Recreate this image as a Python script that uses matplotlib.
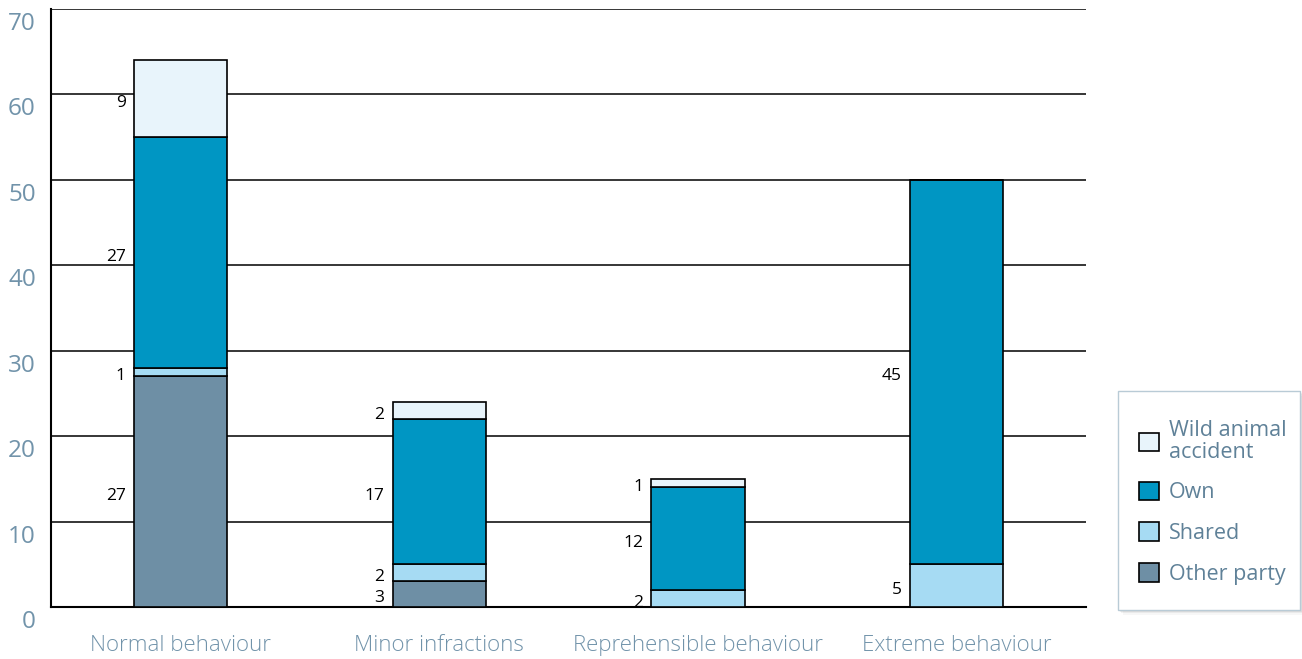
import numpy as np
import matplotlib
matplotlib.use("Agg")
import matplotlib.pyplot as plt
from matplotlib.patches import Patch, Rectangle
import matplotlib.transforms as mtransforms

plt.rcParams["font.family"] = ["Open Sans", "DejaVu Sans"]

categories = ["Normal behaviour", "Minor infractions",
              "Reprehensible behaviour", "Extreme behaviour"]
# stacked from the bottom up
other_party = [27, 3, 0, 0]
shared      = [1, 2, 2, 5]
own         = [27, 17, 12, 45]
wild_animal = [9, 2, 1, 0]

series = [
    ("Other party", other_party, "#6e8fa5"),
    ("Shared", shared, "#a6dbf3"),
    ("Own", own, "#0096c3"),
    ("Wild animal\naccident", wild_animal, "#e8f4fb"),
]

LABEL_COLOR = "#7193aa"
LEGEND_TEXT = "#5f8198"

W, H = 1302, 659
fig = plt.figure(figsize=(W / 100, H / 100), dpi=100)
ax = fig.add_axes([0.0392, 0.0789, 0.795, 0.9074])

x = np.arange(len(categories))
width = 0.36
bottom = np.zeros(len(categories))
for name, vals, color in series:
    vals = np.asarray(vals, dtype=float)
    ax.bar(x, vals, width, bottom=bottom, color=color, edgecolor="black",
           linewidth=1.2, zorder=3)
    for xi, b, v in zip(x, bottom, vals):
        if v > 0:
            ax.annotate(f"{v:g}", (xi - width / 2, b + v / 2),
                        xytext=(-6, -3), textcoords="offset points",
                        ha="right", va="center", fontsize=12.5, color="black")
    bottom += vals

ax.set_xlim(-0.5, 3.5)
ax.set_ylim(0, 70)
ax.set_yticks(range(0, 71, 10))
ax.yaxis.grid(True, color="black", linewidth=1.1, zorder=0)
ax.set_axisbelow(True)

for side in ("top", "right"):
    ax.spines[side].set_visible(False)
for side in ("left", "bottom"):
    ax.spines[side].set_linewidth(1.5)

ax.tick_params(axis="y", length=0, pad=11, labelsize=17.5, labelcolor=LABEL_COLOR)
ax.tick_params(axis="x", length=0, pad=20, labelsize=16, labelcolor=LABEL_COLOR)
ax.set_xticks(x)
ax.set_xticklabels(categories, fontweight="light")

# y labels sit a little below their gridlines
shift = mtransforms.ScaledTranslation(0, -12 / 100, fig.dpi_scale_trans)
for lbl in ax.get_yticklabels():
    lbl.set_transform(lbl.get_transform() + shift)

# legend box: soft shadow + light frame, drawn separately so its size is fixed
bx0, by0, bx1, by1 = 1118, 49, 1300, 268
for off, alpha in ((5, 0.03), (3, 0.05), (1.5, 0.06)):
    fig.patches.append(Rectangle(((bx0 + off) / W, (by0 - off) / H),
                                 (bx1 - bx0) / W, (by1 - by0) / H,
                                 transform=fig.transFigure, facecolor="black",
                                 edgecolor="none", alpha=alpha, zorder=1))
fig.patches.append(Rectangle((bx0 / W, by0 / H), (bx1 - bx0) / W,
                             (by1 - by0) / H, transform=fig.transFigure,
                             facecolor="white", edgecolor="#b9cbd6",
                             linewidth=1.0, zorder=2))

handles = [Patch(facecolor=c, edgecolor="black", linewidth=1.2, label=n)
           for n, _, c in reversed(series)]
leg = fig.legend(handles=handles, loc="upper left",
                 bbox_to_anchor=(1139 / W, (H - 420) / H),
                 fontsize=15.5, frameon=False,
                 handlelength=0.95, handleheight=0.95, handletextpad=0.45,
                 labelspacing=0.88, borderpad=0, borderaxespad=0,
                 labelcolor=LEGEND_TEXT)
leg.set_zorder(3)
for t in leg.get_texts():
    t.set_linespacing(1.05)

fig.savefig("out.png", dpi=100)
